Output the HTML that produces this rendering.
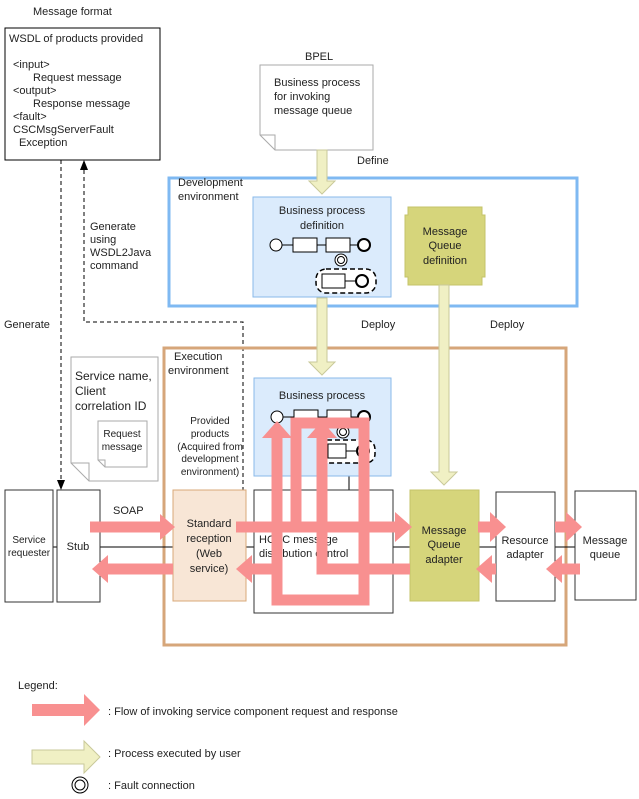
<!DOCTYPE html>
<html><head><style>
body{margin:0;background:#fff}
svg{display:block;font-family:"Liberation Sans",sans-serif;font-size:11px;fill:#222}
</style></head><body>
<svg width="639" height="799" viewBox="0 0 639 799" xmlns="http://www.w3.org/2000/svg">
<text x="33" y="15">Message format</text>
<rect x="5" y="28" width="155" height="132" fill="#fff" stroke="#000"/>
<text x="9" y="42">WSDL of products provided</text>
<text x="13" y="68">&lt;input&gt;</text>
<text x="33" y="81">Request message</text>
<text x="13" y="94">&lt;output&gt;</text>
<text x="33" y="107">Response message</text>
<text x="13" y="120">&lt;fault&gt;</text>
<text x="13" y="133">CSCMsgServerFault</text>
<text x="19" y="146">Exception</text>

<path d="M61,160V482" stroke="#000" stroke-dasharray="4,3" fill="none"/>
<path d="M57,480L65,480L61,490Z" fill="#000"/>
<path d="M84,170V322H243V490" stroke="#000" stroke-dasharray="4,3" fill="none"/>
<path d="M80,170L88,170L84,160Z" fill="#000"/>
<text x="90" y="230">Generate</text><text x="90" y="243">using</text><text x="90" y="256">WSDL2Java</text><text x="90" y="269">command</text>
<text x="4" y="328">Generate</text>

<text x="305" y="60">BPEL</text>
<path d="M260,65H373V150H275L260,135Z" fill="#fff" stroke="#aaa"/>
<path d="M260,135H275V150" fill="none" stroke="#aaa"/>
<text x="274" y="86">Business process</text>
<text x="274" y="100">for invoking</text>
<text x="274" y="114">message queue</text>
<text x="357" y="164">Define</text>

<rect x="169" y="178" width="408" height="128" fill="none" stroke="#7fb9f2" stroke-width="3"/>
<text x="178" y="186">Development</text><text x="178" y="200">environment</text>
<rect x="253" y="197" width="138" height="100" fill="#dbebfc" stroke="#8ab9ea"/>
<text x="322" y="214" text-anchor="middle">Business process</text>
<text x="322" y="229" text-anchor="middle">definition</text>
<g stroke="#000" fill="#fff">
<line x1="277" y1="245" x2="364" y2="245"/>
<circle cx="276" cy="245" r="6"/>
<rect x="293" y="238" width="24" height="14"/>
<rect x="326" y="238" width="24" height="14"/>
<circle cx="364" cy="245" r="6" stroke-width="2"/>
<circle cx="341" cy="260" r="6"/><circle cx="341" cy="260" r="3.5"/>
<rect x="316" y="269" width="60" height="24" rx="10" stroke-dasharray="5,3" stroke-width="1.5"/>
<line x1="345" y1="281" x2="357" y2="281"/>
<rect x="322" y="274" width="23" height="14"/>
<circle cx="362" cy="281" r="6" stroke-width="2"/>
</g>
<path d="M405,215h3v-8h74v8h3v62h-3v8h-74v-8h-3Z" fill="#d6d57b" stroke="#c4c36a"/>
<text x="445" y="235" text-anchor="middle">Message</text>
<text x="445" y="249" text-anchor="middle">Queue</text>
<text x="445" y="264" text-anchor="middle">definition</text>
<text x="361" y="328">Deploy</text>
<text x="490" y="328">Deploy</text>

<rect x="164" y="348" width="402" height="297" fill="none" stroke="#d6a67a" stroke-width="3"/>
<text x="174" y="360">Execution</text><text x="168" y="374">environment</text>
<g font-size="10" text-anchor="middle"><text x="210" y="424">Provided</text><text x="210" y="437">products</text><text x="210" y="450">(Acquired from</text><text x="210" y="462">development</text><text x="210" y="475">environment)</text></g>

<path d="M71,357H158V481H89L71,463Z" fill="#fff" stroke="#aaa"/>
<path d="M71,463H89V481" fill="none" stroke="#aaa"/>
<text x="75" y="380" font-size="12">Service name,</text><text x="75" y="395" font-size="12">Client</text><text x="75" y="410" font-size="12">correlation ID</text>
<path d="M98,421H147V467H105L98,460Z" fill="#fff" stroke="#aaa"/>
<path d="M98,460H105V467" fill="none" stroke="#aaa"/>
<text x="122" y="437" font-size="10" text-anchor="middle">Request</text><text x="122" y="450" font-size="10" text-anchor="middle">message</text>

<line x1="52" y1="547" x2="575" y2="547" stroke="#000"/>
<line x1="349" y1="476" x2="349" y2="490" stroke="#000"/>

<rect x="5" y="490" width="48" height="112" fill="#fff" stroke="#333"/>
<text x="29" y="543" font-size="10" text-anchor="middle">Service</text><text x="29" y="556" font-size="10" text-anchor="middle">requester</text>
<rect x="57" y="490" width="43" height="112" fill="#fff" stroke="#333"/>
<text x="78" y="550" text-anchor="middle">Stub</text>
<text x="113" y="514">SOAP</text>
<rect x="173" y="490" width="73" height="111" fill="#f8e6d6" stroke="#d8a878"/>
<g text-anchor="middle"><text x="209" y="527">Standard</text><text x="209" y="542">reception</text><text x="209" y="557">(Web</text><text x="209" y="572">service)</text></g>
<rect x="254" y="490" width="139" height="123" fill="#fff" stroke="#333"/>
<text x="259" y="543">HCSC message</text><text x="259" y="557">distribution control</text>
<rect x="410" y="490" width="69" height="111" fill="#d6d57b" stroke="#c4c36a"/>
<g text-anchor="middle"><text x="444" y="534">Message</text><text x="444" y="548">Queue</text><text x="444" y="563">adapter</text></g>
<rect x="496" y="492" width="59" height="109" fill="#fff" stroke="#333"/>
<text x="525" y="544" text-anchor="middle">Resource</text><text x="525" y="558" text-anchor="middle">adapter</text>
<rect x="575" y="491" width="61" height="109" fill="#fff" stroke="#333"/>
<text x="605" y="544" text-anchor="middle">Message</text><text x="605" y="558" text-anchor="middle">queue</text>

<rect x="254" y="378" width="137" height="98" fill="#dbebfc" stroke="#8ab9ea"/>
<text x="322" y="399" text-anchor="middle">Business process</text>
<g stroke="#000" fill="#fff">
<line x1="277" y1="417" x2="364" y2="417"/>
<circle cx="277" cy="417" r="6"/>
<rect x="294" y="410" width="24" height="14"/>
<rect x="327" y="410" width="24" height="14"/>
<circle cx="364" cy="417" r="6" stroke-width="2"/>
<circle cx="343" cy="432" r="6"/><circle cx="343" cy="432" r="3.5"/>
<rect x="318" y="440" width="57" height="23" rx="9" stroke-dasharray="5,3" stroke-width="1.5"/>
<line x1="345" y1="451" x2="357" y2="451"/>
<rect x="328" y="444" width="18" height="14"/>
<circle cx="363" cy="451" r="6" stroke-width="2"/>
</g>

<g fill="#f0f0c4" stroke="#c9c99a">
<path d="M317,150h10v31h8l-13,13l-13,-13h8Z"/>
<path d="M317,298h10v64h8l-13,13l-13,-13h8Z"/>
<path d="M439,285h10v187h8l-13,13l-13,-13h8Z"/>
</g>

<g fill="none" stroke="#f89090" stroke-width="11">
<path d="M90,527H160"/>
<path d="M236,527H395"/>
<path d="M296,527V423H364V600H277V436"/>
<path d="M410,569H322V436"/>
<path d="M277,569H252"/>
<path d="M173,569H108"/>
<path d="M478,527H494"/>
<path d="M555,527H566"/>
<path d="M580,569H560"/>
<path d="M496,569H490"/>
</g>
<g fill="#f89090">
<path d="M160,514L175,527L160,540Z"/>
<path d="M395,512L412,527L395,542Z"/>
<path d="M262,438L277,421L292,438Z"/>
<path d="M307,438L322,421L337,438Z"/>
<path d="M252,555L236,569L252,583Z"/>
<path d="M108,555L92,569L108,583Z"/>
<path d="M490,512L506,527L490,542Z"/>
<path d="M566,512L582,527L566,542Z"/>
<path d="M562,555L546,569L562,583Z"/>
<path d="M492,555L476,569L492,583Z"/>
</g>

<text x="18" y="689">Legend:</text>
<path d="M32,704H84V694L100,710L84,726V716H32Z" fill="#f89090"/>
<text x="108" y="715">: Flow of invoking service component request and response</text>
<path d="M32,750H84V741L100,757L84,773V764H32Z" fill="#f0f0c4" stroke="#c9c99a"/>
<text x="108" y="757">: Process executed by user</text>
<circle cx="80" cy="785" r="8" fill="#fff" stroke="#000"/><circle cx="80" cy="785" r="5" fill="#fff" stroke="#000"/>
<text x="108" y="789">: Fault connection</text>
</svg>
</body></html>
